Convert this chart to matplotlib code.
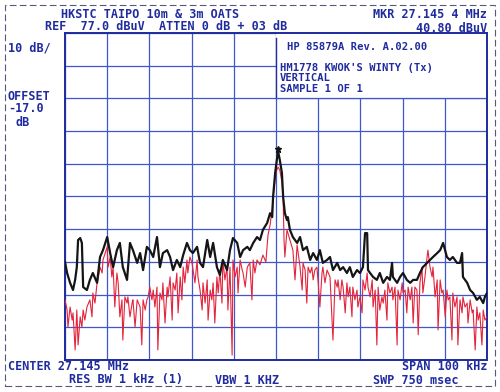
import matplotlib.pyplot as plt
from matplotlib.patches import Rectangle

# spectrum analyser screen: 10 dB/div, ref 77 dBuV, span 100 kHz around 27.145 MHz
black_khz = [-50.0, -49.5, -48.8, -48.1, -47.6, -47.2, -46.9, -46.4, -46.0, -45.7, -44.8, -44.1, -43.4, -42.4,
             -41.7, -41.0, -40.0, -39.3, -38.6, -37.7, -37.0, -36.3, -35.3, -34.6, -33.9, -32.9, -32.2, -31.5,
             -30.6, -29.9, -29.1, -28.2, -27.5, -26.8, -25.8, -25.1, -24.4, -23.5, -22.7, -22.0, -21.1, -20.4,
             -19.7, -18.7, -18.0, -17.3, -16.3, -15.6, -14.9, -14.0, -13.3, -12.6, -11.6, -10.9, -10.2, -9.2,
             -8.5, -7.8, -6.8, -6.2, -5.4, -4.5, -3.8, -3.1, -2.1, -1.4, -0.9, -0.7, -0.2, 0.2, 0.5, 0.9, 1.4,
             1.7, 2.1, 2.6, 2.8, 3.3, 4.0, 5.0, 5.7, 6.4, 7.3, 8.1, 8.8, 9.7, 10.4, 11.1, 12.1, 12.8, 13.5,
             14.5, 15.2, 15.9, 16.8, 17.5, 18.2, 19.2, 19.9, 20.6, 21.1, 21.6, 21.8, 22.3, 23.0, 23.9, 24.6,
             25.4, 26.3, 27.0, 27.5, 27.7, 28.7, 29.4, 30.1, 31.0, 31.8, 32.5, 33.4, 34.1, 34.8, 35.8, 36.5,
             37.2, 38.2, 38.9, 39.6, 40.5, 41.2, 41.9, 42.9, 43.6, 44.1, 44.3, 45.3, 46.0, 46.7, 47.6, 48.3,
             49.1, 49.5, 50.0]
black_dbuv = [7.0, 3.6, 0.6, -1.6, 1.5, 5.4, 13.7, 14.3, 12.8, -0.7, -1.6, 1.5, 3.6, 0.6,
              8.5, 10.6, 14.6, 9.7, 5.4, 10.6, 12.8, 5.4, 1.5, 12.8, 10.6, 6.7, 9.7, 4.5,
              11.6, 10.6, 8.5, 14.6, 5.4, 9.7, 10.6, 8.5, 4.5, 7.6, 5.4, 9.1, 12.8, 10.6,
              9.7, 11.6, 6.7, 5.4, 13.7, 8.5, 12.8, 5.4, 3.0, 7.6, 4.5, 10.6, 14.3, 12.8,
              8.5, 10.6, 11.6, 10.6, 12.8, 14.6, 13.7, 16.8, 18.9, 21.9, 20.7, 26.8, 34.2, 38.2, 40.8, 38.2, 34.2,
              26.8, 21.9, 19.8, 20.7, 16.8, 14.6, 12.8, 14.6, 10.6, 11.6, 7.6, 9.7, 7.6, 10.6, 6.7, 7.6, 8.5, 4.5,
              6.7, 4.5, 5.4, 3.6, 5.4, 2.4, 4.5, 3.6, 5.4, 15.8, 15.8, 4.5, 3.6, 2.4, 1.5, 3.6,
              0.6, 2.4, 1.5, 6.7, 2.4, 0.6, 2.4, 3.6, 1.5, 0.6, 1.5, 1.5, 3.6, 5.4, 6.7, 7.6,
              8.5, 9.7, 10.6, 12.8, 8.5, 7.6, 8.5, 6.7, 6.7, 9.7, 2.4, 0.6, -1.6, -2.5, -4.6, -3.7,
              -5.6, -3.7, -2.5]

red_khz = [-50.0, -49.5, -49.3, -48.8, -48.3, -48.1, -47.6, -47.2, -46.9, -46.4, -46.0, -45.7, -45.3, -44.8,
           -44.1, -43.6, -43.4, -42.9, -42.4, -42.2, -41.7, -41.2, -41.0, -40.0, -39.8, -39.3, -38.9, -38.6,
           -38.2, -37.7, -37.4, -37.0, -36.5, -36.3, -35.8, -35.3, -35.1, -34.6, -34.1, -33.9, -33.4, -32.9,
           -32.2, -31.8, -31.5, -31.0, -30.6, -30.3, -29.9, -29.4, -29.1, -28.7, -28.2, -28.0, -27.5, -27.0,
           -26.8, -26.3, -25.8, -25.6, -25.1, -24.6, -24.4, -23.9, -23.5, -23.2, -22.7, -22.3, -22.0, -21.6,
           -21.1, -20.9, -20.4, -19.9, -19.2, -18.7, -18.5, -18.0, -17.5, -17.3, -16.8, -16.3, -16.1, -15.6,
           -15.2, -14.9, -14.5, -14.0, -13.7, -13.3, -12.8, -12.6, -12.1, -11.6, -11.4, -10.9, -10.4, -10.2,
           -9.7, -9.2, -9.0, -8.5, -8.0, -7.8, -7.3, -6.8, -6.2, -5.7, -5.4, -5.0, -4.5, -3.8, -3.1, -2.4,
           -1.9, -1.4, -0.9, -0.5, 0.0, 0.5, 0.9, 1.4, 1.7, 1.9, 2.1, 2.6, 3.3, 4.0, 4.5, 5.0, 5.7, 6.2,
           6.4, 6.9, 7.3, 7.6, 8.1, 8.5, 8.8, 9.2, 9.7, 10.0, 10.4, 10.9, 11.1, 11.6, 12.1, 12.8, 13.5, 14.0,
           14.5, 14.7, 15.2, 15.6, 15.9, 16.4, 16.8, 17.1, 17.5, 18.0, 18.2, 18.7, 19.2, 19.4, 19.9, 20.4,
           20.6, 21.1, 21.6, 21.8, 22.3, 22.8, 23.0, 23.5, 23.9, 24.2, 24.6, 25.1, 25.4, 25.8, 26.3, 26.5,
           27.0, 27.5, 27.7, 28.2, 28.7, 28.9, 29.4, 29.9, 30.1, 30.6, 31.0, 31.3, 31.8, 32.2, 32.5, 32.9,
           33.4, 33.7, 34.1, 34.6, 34.8, 35.3, 35.8, 36.0, 36.5, 37.0, 37.2, 37.7, 38.2, 38.4, 38.9, 39.3,
           39.6, 40.1, 40.5, 40.8, 41.2, 41.7, 41.9, 42.4, 42.9, 43.1, 43.6, 44.1, 44.3, 44.8, 45.3, 45.5,
           46.0, 46.5, 46.7, 47.2, 47.6, 47.9, 48.3, 48.8, 49.1, 49.5, 50.0]
red_dbuv = [-4.6, -7.7, -12.9, -6.8, -10.8, -8.6, -19.9, -7.7, -18.4, -9.8, -12.9, -7.7, -10.8, -6.8,
            -4.6, -9.8, -2.5, -5.6, 0.6, 1.5, 5.4, 3.6, 7.6, 11.6, 5.4, 8.5, 2.4, 5.4,
            -6.8, 3.6, 0.6, -9.8, -4.6, -16.9, -3.7, -5.6, -3.7, -9.8, -5.6, -4.6, -12.9, -4.6,
            -6.8, -18.4, -4.6, -7.7, -4.6, -3.7, -0.7, -4.6, -1.6, -6.8, -0.7, -19.9, -2.5, -4.6,
            0.6, -11.7, -0.7, -3.7, 2.4, -10.8, 0.6, -1.6, 3.6, -8.6, 2.4, -4.6, 5.4, 0.6,
            7.6, 3.6, 8.5, 6.7, 0.6, 7.6, 2.4, -1.6, -7.7, 0.6, -5.6, 1.5, -10.8, -1.6,
            -4.6, 0.6, -11.7, 2.4, -2.5, 4.5, -5.6, 7.6, 1.5, 5.4, -7.7, 5.4, -21.5, 7.6,
            2.4, 5.4, -2.5, 7.6, 4.5, 3.6, -0.7, 5.4, 6.7, -4.6, 7.6, 3.6, 7.6, 6.1, 9.1, 7.0,
            15.2, 18.3, 23.5, 29.0, 34.5, 36.0, 35.1, 31.4, 25.9, 13.7, 8.5, 16.8, 13.7, 10.6, 1.5, 12.2, 5.4, -1.6,
            6.7, 4.5, -5.6, 5.4, 3.6, 5.4, 1.5, 4.5, 5.4, 0.6, -6.8, 3.6, 5.4, 0.6, 4.5, 2.4, -16.9, 1.5,
            -0.7, 1.5, -4.6, 1.5, -0.7, -8.6, 0.6, -3.7, -0.7, -9.8, -0.7, -4.6, -1.6, -6.8, -3.7, -8.6,
            1.5, -1.6, 3.6, -0.7, -3.7, 1.5, -6.8, -1.6, -18.4, -0.7, -7.7, -3.7, -5.6, -1.6, -10.8, 0.6,
            -2.5, -0.7, -4.6, -0.7, -18.4, -1.6, -4.6, 0.6, -2.5, -1.6, -8.6, -0.7, -4.6, -0.7, -11.7, -0.7,
            -1.6, -15.3, 0.6, 5.4, -2.5, 2.4, 8.5, 10.6, 5.4, 2.4, 5.4, -3.7, 1.5, -13.8, 1.5, -2.5,
            -1.6, -9.8, -1.6, -4.6, -3.7, -16.9, -2.5, -6.8, -3.7, -18.4, -4.6, -8.6, -3.7, -6.8, -5.6, -11.7,
            -4.6, -8.6, -7.7, -19.9, -6.8, -10.8, -8.6, -18.4, -7.7, -10.8, -9.8]

marker_khz = 0.5
marker_dbuv = 40.8

blue = '#1f2b9e'
grid_blue = '#3f57c8'
mono = {'family': 'DejaVu Sans Mono', 'weight': 'bold', 'color': blue}

W, H = 500, 392
fig = plt.figure(figsize=(5, 3.92), dpi=100)
fig.patch.set_facecolor('white')

ax = fig.add_axes([65 / W, 1 - 360 / H, 422 / W, 327 / H])
ax.set_xlim(-50, 50)
ax.set_ylim(-23, 77)
ax.set_xticks(range(-50, 51, 10))
ax.set_yticks(range(-23, 78, 10))
ax.tick_params(length=0, labelbottom=False, labelleft=False)
ax.set_axisbelow(True)
ax.grid(True, color=grid_blue, lw=0.9)
for s in ax.spines.values():
    s.set_color(blue)
    s.set_linewidth(1.4)

# annotation box in the upper right of the screen
ax.add_patch(Rectangle((0, 57), 50, 20, facecolor='white', edgecolor='none', zorder=1))
ax.plot([0, 0], [57, 75.5], color=blue, lw=1.0, zorder=1.5)
ax.plot([0, 50], [57, 57], color=grid_blue, lw=0.9, zorder=1.5)

ax.plot(red_khz, red_dbuv, color='#e3243c', lw=0.8, zorder=3)
ax.plot(black_khz, black_dbuv, color='#151515', lw=1.6, zorder=4)
ax.plot([marker_khz], [marker_dbuv + 0.6], marker='*', ms=5, color='#151515', zorder=5)


def label(x, y, s, size=8.5, ha='left'):
    fig.text(x / W, 1 - y / H, s, fontsize=size, ha=ha, va='center', **mono)


label(61, 14, 'HKSTC TAIPO 10m & 3m OATS')
label(45, 27, 'REF  77.0 dBuV  ATTEN 0 dB + 03 dB')
label(487, 15, 'MKR 27.145 4 MHz', ha='right')
label(487, 28, '40.80 dBuV', ha='right')
label(8, 48, '10 dB/')
label(8, 96, 'OFFSET')
label(8, 109, '-17.0')
label(16, 122, 'dB')
label(287, 47, 'HP 85879A Rev. A.02.00', size=7.6)
label(280, 68, "HM1778 KWOK'S WINTY (Tx)", size=7.6)
label(280, 78, 'VERTICAL', size=7.6)
label(280, 89, 'SAMPLE 1 OF 1', size=7.6)
label(8, 367, 'CENTER 27.145 MHz')
label(69, 380, 'RES BW 1 kHz (1)')
label(215, 380, 'VBW 1 KHZ')
label(487, 367, 'SPAN 100 kHz', ha='right')
label(373, 380, 'SWP 750 msec')

# edge of the printout
fig.add_artist(Rectangle((5 / W, 1 - 386 / H), 490 / W, 381 / H, transform=fig.transFigure,
                         fill=False, edgecolor='#55597a', lw=0.8, ls=(0, (6, 3))))

fig.savefig('out.png', dpi=100)
